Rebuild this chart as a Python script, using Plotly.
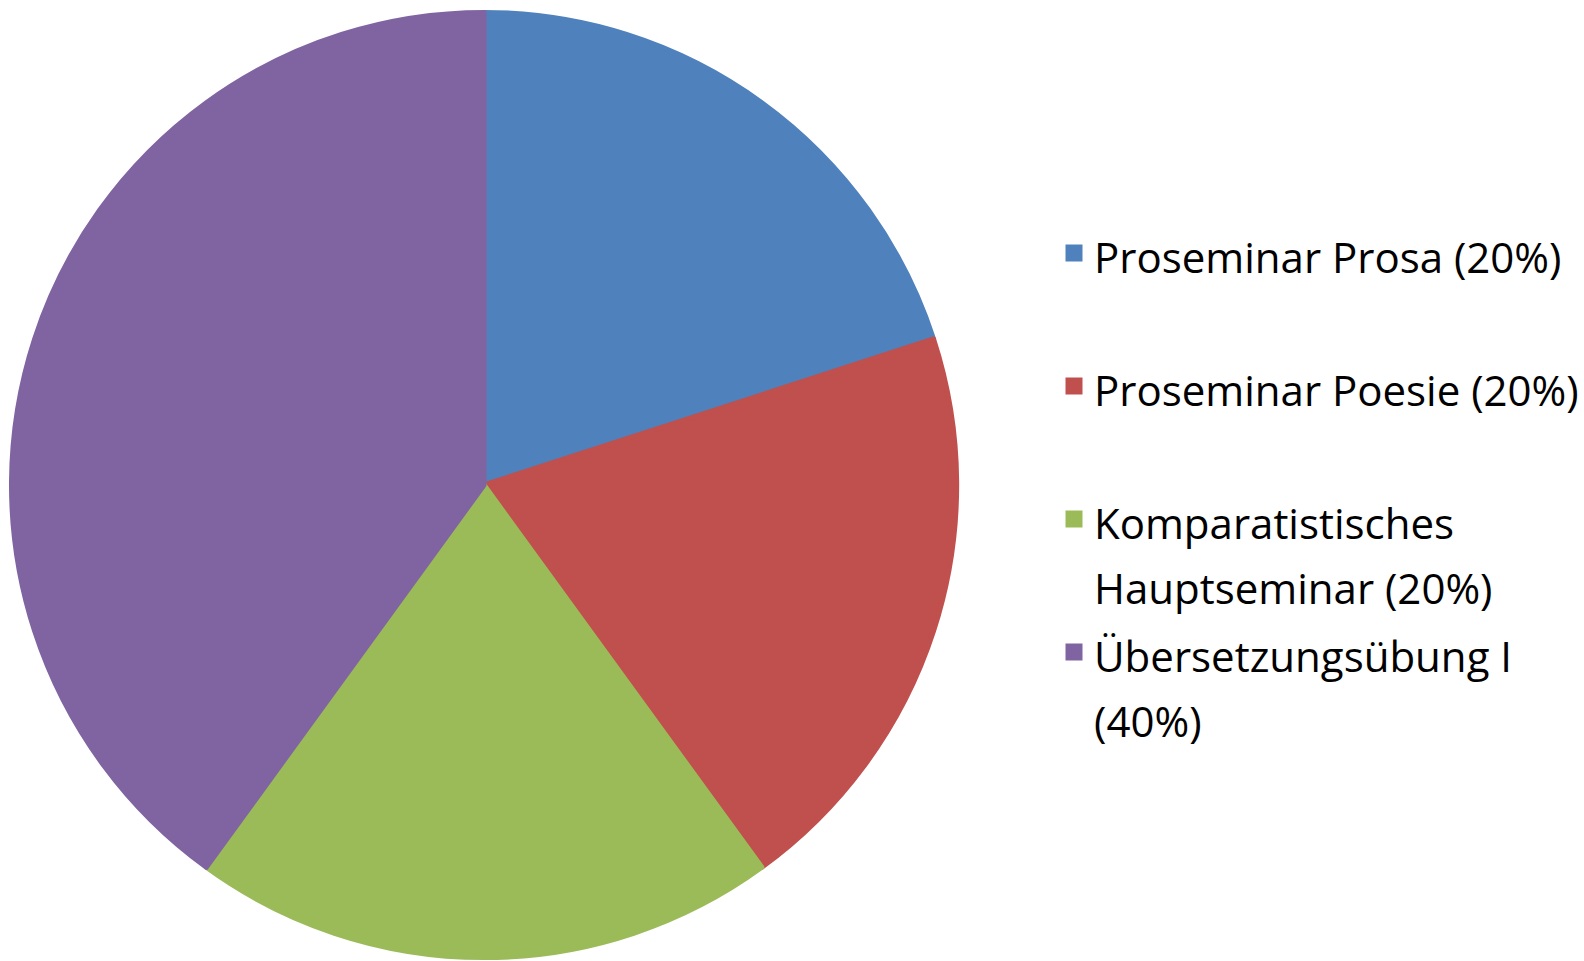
import plotly.graph_objects as go

# Data
categories = ["Proseminar Prosa", "Proseminar Poesie",
              "Komparatistisches Hauptseminar", "Übersetzungsübung I"]
values = [20, 20, 20, 40]
legend_lines = [
    ["Proseminar Prosa (20%)", " "],
    ["Proseminar Poesie (20%)", " "],
    ["Komparatistisches", "Hauptseminar (20%)"],
    ["Übersetzungsübung I", "(40%)"],
]
colors = ["#4F81BD", "#C0504D", "#9BBB59", "#8064A2"]

TEXT_SIZE = 42
labels = ["<br>".join('<span style="font-size:%dpx">%s</span>' % (TEXT_SIZE, l) for l in lines)
          for lines in legend_lines]

W, H = 1584, 961
cx, cy, r = 485, 485, 473.5  # pie centre / radius in pixels (layout)

fig = go.Figure(go.Pie(
    labels=labels,
    values=values,
    customdata=categories,
    sort=False,
    direction="clockwise",
    rotation=0,
    textinfo="none",
    hovertemplate="%{customdata}: %{value}%<extra></extra>",
    marker=dict(colors=colors, line=dict(color=colors, width=5)),
    domain=dict(x=[(cx - r) / W, (cx + r) / W],
                y=[(H - cy - r) / H, (H - cy + r) / H]),
))

fig.update_layout(
    width=W, height=H,
    margin=dict(l=0, r=0, t=0, b=0),
    paper_bgcolor="white",
    plot_bgcolor="white",
    showlegend=True,
    legend=dict(
        x=1056 / W, xanchor="left",
        y=1 - 214 / H, yanchor="top",
        font=dict(family="Open Sans", size=50, color="#000000"),
        valign="top",
        bgcolor="rgba(0,0,0,0)",
    ),
)

fig.write_html(
    "out.html",
    config={"displayModeBar": False},
    post_script="document.body.style.margin='0';document.body.style.overflow='hidden';",
)
